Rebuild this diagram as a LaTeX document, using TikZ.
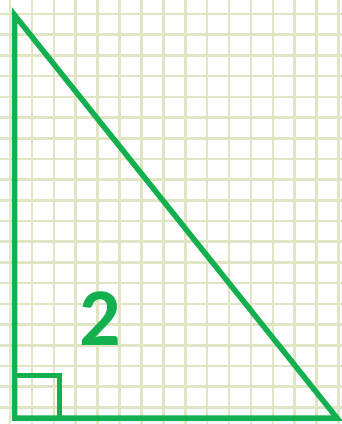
\documentclass[tikz,border=0pt]{standalone}
\usepackage{fontspec}
\newfontfamily\labelfont{Carlito}
\usepackage{xcolor}
\definecolor{TRIgreen}{HTML}{13B04F}
\definecolor{TRIgrid}{HTML}{DFE6C4}
\usetikzlibrary{calc}

\begin{document}
\begin{tikzpicture}[x=1pt, y=-1pt,
    gridline/.style={TRIgrid, line width=2.6pt},
    triline/.style={TRIgreen, line width=5.5pt, line join=miter}]
    \useasboundingbox (0,0) rectangle (342,424);
    \fill[white] (0,0) rectangle (342,424);
    % Grid paper
    \foreach \k in {0,...,15}
      \draw[gridline] ({10+21.9*\k},0) -- ({10+21.9*\k},424);
    \foreach \k in {0,...,19}
      \draw[gridline] (0,{14+20.7*\k}) -- (342,{14+20.7*\k});
    % Corners of the triangle
    \coordinate (top) at (14.5,15);
    \coordinate (corner) at (14.5,418);
    \coordinate (right) at (337,418);
    \draw[triline] (top) -- (corner) -- (right) -- cycle;
    % Right angle mark
    \draw[TRIgreen, line width=5pt] ($(corner)+(0,-43)$) -| ($(corner)+(44.5,0)$);
    % Label
    \node[TRIgreen, font=\labelfont\bfseries\fontsize{82}{82}\selectfont,
      inner sep=0pt] (num) at (100,319) {2};
\end{tikzpicture}
\end{document}
